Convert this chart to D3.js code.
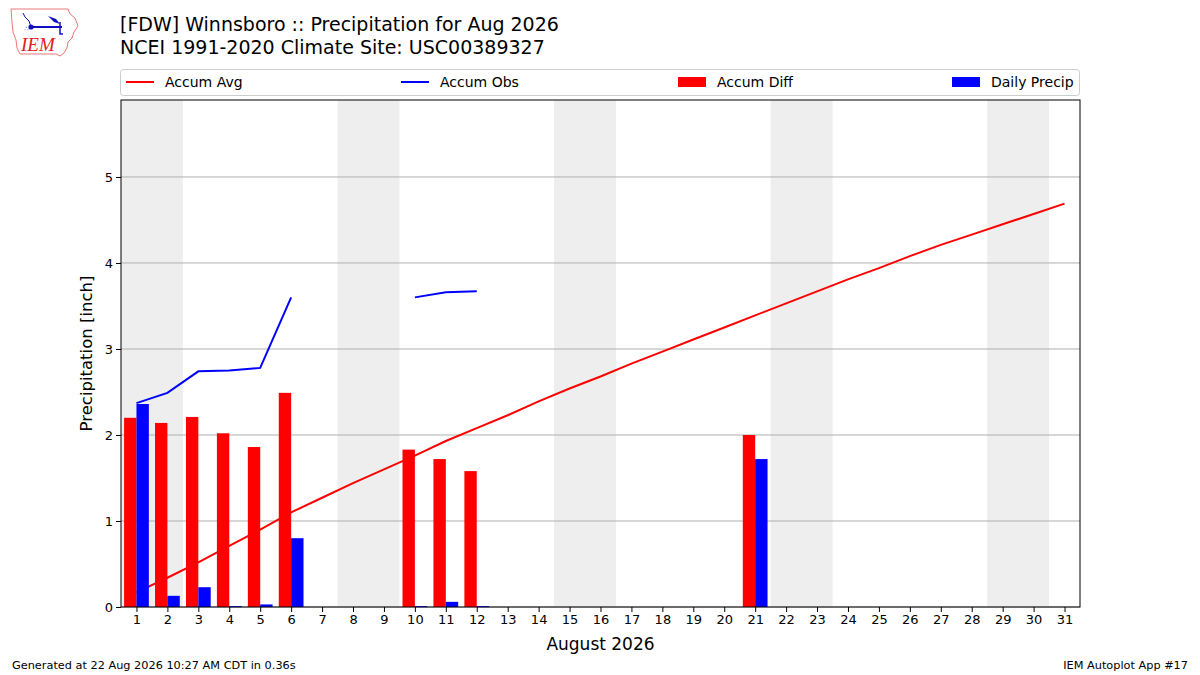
<!DOCTYPE html>
<html>
<head>
<meta charset="utf-8">
<script src="https://cdn.jsdelivr.net/npm/d3@7"></script>
<style>
html,body{margin:0;padding:0;background:#fff;}
svg{display:block;font-family:"DejaVu Sans",sans-serif;}
</style>
</head>
<body>
<svg id="chart" width="1200" height="675"></svg>
<script>
const days = d3.range(1, 32);
const accumAvg = [0.17,0.34,0.52,0.71,0.90,1.10,1.27,1.44,1.60,1.76,1.93,2.08,2.23,2.39,2.54,2.68,2.83,2.97,3.11,3.25,3.39,3.53,3.67,3.81,3.94,4.08,4.21,4.33,4.45,4.57,4.69];
const accumObs = [2.37,2.49,2.74,2.75,2.78,3.60,null,null,null,3.60,3.66,3.67,null,null,null,null,null,null,null,null,null,null,null,null,null,null,null,null,null,null,null];
const accumDiff = [2.20,2.14,2.21,2.02,1.86,2.49,0,0,0,1.83,1.72,1.58,0,0,0,0,0,0,0,0,2.00,0,0,0,0,0,0,0,0,0,0];
const dailyPrecip = [2.36,0.13,0.23,0.01,0.03,0.80,0,0,0,0.01,0.06,0.01,0,0,0,0,0,0,0,0,1.72,0,0,0,0,0,0,0,0,0,0];
const weekendStarts = [1, 8, 15, 22, 29];
const yTicks = [0,1,2,3,4,5];
const titleLines = ["[FDW] Winnsboro :: Precipitation for Aug 2026", "NCEI 1991-2020 Climate Site: USC00389327"];
const legendItems = [
  {label:"Accum Avg", type:"line", color:"#ff0000"},
  {label:"Accum Obs", type:"line", color:"#0000ff"},
  {label:"Accum Diff", type:"patch", color:"#ff0000"},
  {label:"Daily Precip", type:"patch", color:"#0000ff"}
];

const svg = d3.select("#chart");
const L = 121, R = 1080, T = 100, B = 607;
const x = d3.scaleLinear().domain([0.5, 31.5]).range([L, R]);
const y = d3.scaleLinear().domain([0, 5.895]).range([B, T]);

// weekend shading
svg.append("g").selectAll("rect").data(weekendStarts).join("rect")
  .attr("x", d => x(d - 0.5)).attr("width", d => x(d + 1.5) - x(d - 0.5))
  .attr("y", T).attr("height", B - T).attr("fill", "#eeeeee");

// grid
svg.append("g").selectAll("line").data(yTicks).join("line")
  .attr("x1", L).attr("x2", R).attr("y1", d => y(d)).attr("y2", d => y(d))
  .attr("stroke", "#b0b0b0").attr("stroke-width", 1);

// lines
const line = d3.line().defined(d => d[1] !== null).x(d => x(d[0])).y(d => y(d[1]));
svg.append("path").datum(days.map((d,i) => [d, accumAvg[i]]))
  .attr("d", line).attr("fill", "none").attr("stroke", "#ff0000").attr("stroke-width", 2);
svg.append("path").datum(days.map((d,i) => [d, accumObs[i]]))
  .attr("d", line).attr("fill", "none").attr("stroke", "#0000ff").attr("stroke-width", 2);

// bars
svg.append("g").selectAll("rect").data(days.map((d,i) => [d, accumDiff[i]]).filter(d => d[1] > 0)).join("rect")
  .attr("x", d => x(d[0] - 0.4)).attr("width", d => x(d[0]) - x(d[0] - 0.4))
  .attr("y", d => y(d[1])).attr("height", d => y(0) - y(d[1])).attr("fill", "#ff0000");
svg.append("g").selectAll("rect").data(days.map((d,i) => [d, dailyPrecip[i]]).filter(d => d[1] > 0)).join("rect")
  .attr("x", d => x(d[0])).attr("width", d => x(d[0] + 0.4) - x(d[0]))
  .attr("y", d => y(d[1])).attr("height", d => Math.max(1, y(0) - y(d[1]))).attr("fill", "#0000ff");

// frame
svg.append("rect").attr("x", L).attr("y", T).attr("width", R - L).attr("height", B - T)
  .attr("fill", "none").attr("stroke", "#000").attr("stroke-width", 1);

// axes
const xAxis = d3.axisBottom(x).tickValues(days).tickSize(5).tickPadding(3).tickFormat(d3.format("d"));
const gx = svg.append("g").attr("transform", `translate(0,${B})`).call(xAxis);
gx.select(".domain").remove();
gx.selectAll("text").attr("font-size", 13).attr("font-family", "DejaVu Sans").attr("fill", "#000");
const yAxis = d3.axisLeft(y).tickValues(yTicks).tickSize(5).tickPadding(3).tickFormat(d3.format("d"));
const gy = svg.append("g").attr("transform", `translate(${L},0)`).call(yAxis);
gy.select(".domain").remove();
gy.selectAll("text").attr("font-size", 13).attr("font-family", "DejaVu Sans").attr("fill", "#000");

svg.append("text").attr("x", (L + R) / 2).attr("y", 650).attr("text-anchor", "middle")
  .attr("font-size", 17).text("August 2026");
svg.append("text").attr("transform", `translate(92,${(T + B) / 2}) rotate(-90)`).attr("text-anchor", "middle")
  .attr("font-size", 16.5).text("Precipitation [inch]");

// titles
svg.selectAll("text.title").data(titleLines).join("text").attr("class", "title")
  .attr("x", 120).attr("y", (d,i) => 31 + i * 23).attr("font-size", 19).text(d => d);

// legend
svg.append("rect").attr("x", 120.5).attr("y", 69.5).attr("width", 959).attr("height", 26).attr("rx", 3)
  .attr("fill", "#fff").attr("stroke", "#cccccc");
const legX = [126, 401, 678, 952];
const lg = svg.append("g").selectAll("g").data(legendItems).join("g")
  .attr("transform", (d,i) => `translate(${legX[i]},82)`);
lg.filter(d => d.type === "line").append("line").attr("x1", 0).attr("x2", 28).attr("y1", 0).attr("y2", 0)
  .attr("stroke", d => d.color).attr("stroke-width", 2);
lg.filter(d => d.type === "patch").append("rect").attr("x", 0).attr("y", -5).attr("width", 28).attr("height", 10)
  .attr("fill", d => d.color);
lg.append("text").attr("x", 39).attr("y", 5).attr("font-size", 14).text(d => d.label);

// footer
svg.append("text").attr("x", 12).attr("y", 669).attr("font-size", 11.3).text("Generated at 22 Aug 2026 10:27 AM CDT in 0.36s");
svg.append("text").attr("x", 1188).attr("y", 669).attr("font-size", 11.3).attr("text-anchor", "end").text("IEM Autoplot App #17");

// logo (approximate)
const logo = svg.append("g");
logo.append("path")
  .attr("d", "M11,9 L68,9 L70,14 L75,18 L78,26 L74,32 L72,38 L68,42 L67,48 L64,53 L60,56 L56,54 L20,54 L17,48 L16,40 L13,32 L12,22 Z")
  .attr("fill", "#fff").attr("stroke", "#e87878").attr("stroke-width", 1);
logo.append("line").attr("x1", 31).attr("y1", 27).attr("x2", 62).attr("y2", 27).attr("stroke", "#1010c0").attr("stroke-width", 2);
logo.append("circle").attr("cx", 31).attr("cy", 27).attr("r", 2.6).attr("fill", "#1010c0");
logo.append("path").attr("d", "M48,16 L56,19 L60,24 L54,22 Z").attr("fill", "#1010c0");
logo.append("path").attr("d", "M23,13 L25,17 L29,21 L31,27").attr("fill", "none").attr("stroke", "#1010c0").attr("stroke-width", 1);
logo.append("path").attr("d", "M60,22 L60,34 L63,34").attr("fill", "none").attr("stroke", "#1010c0").attr("stroke-width", 1.5);
logo.append("text").attr("x", 24).attr("y", 31).attr("font-size", 7).attr("fill", "#1010c0").text("∴");
logo.append("text").attr("x", 21).attr("y", 51).attr("font-size", 19).attr("font-style", "italic")
  .attr("font-family", "Liberation Serif, serif").attr("fill", "#e02020").text("IEM");
</script>
</body>
</html>
